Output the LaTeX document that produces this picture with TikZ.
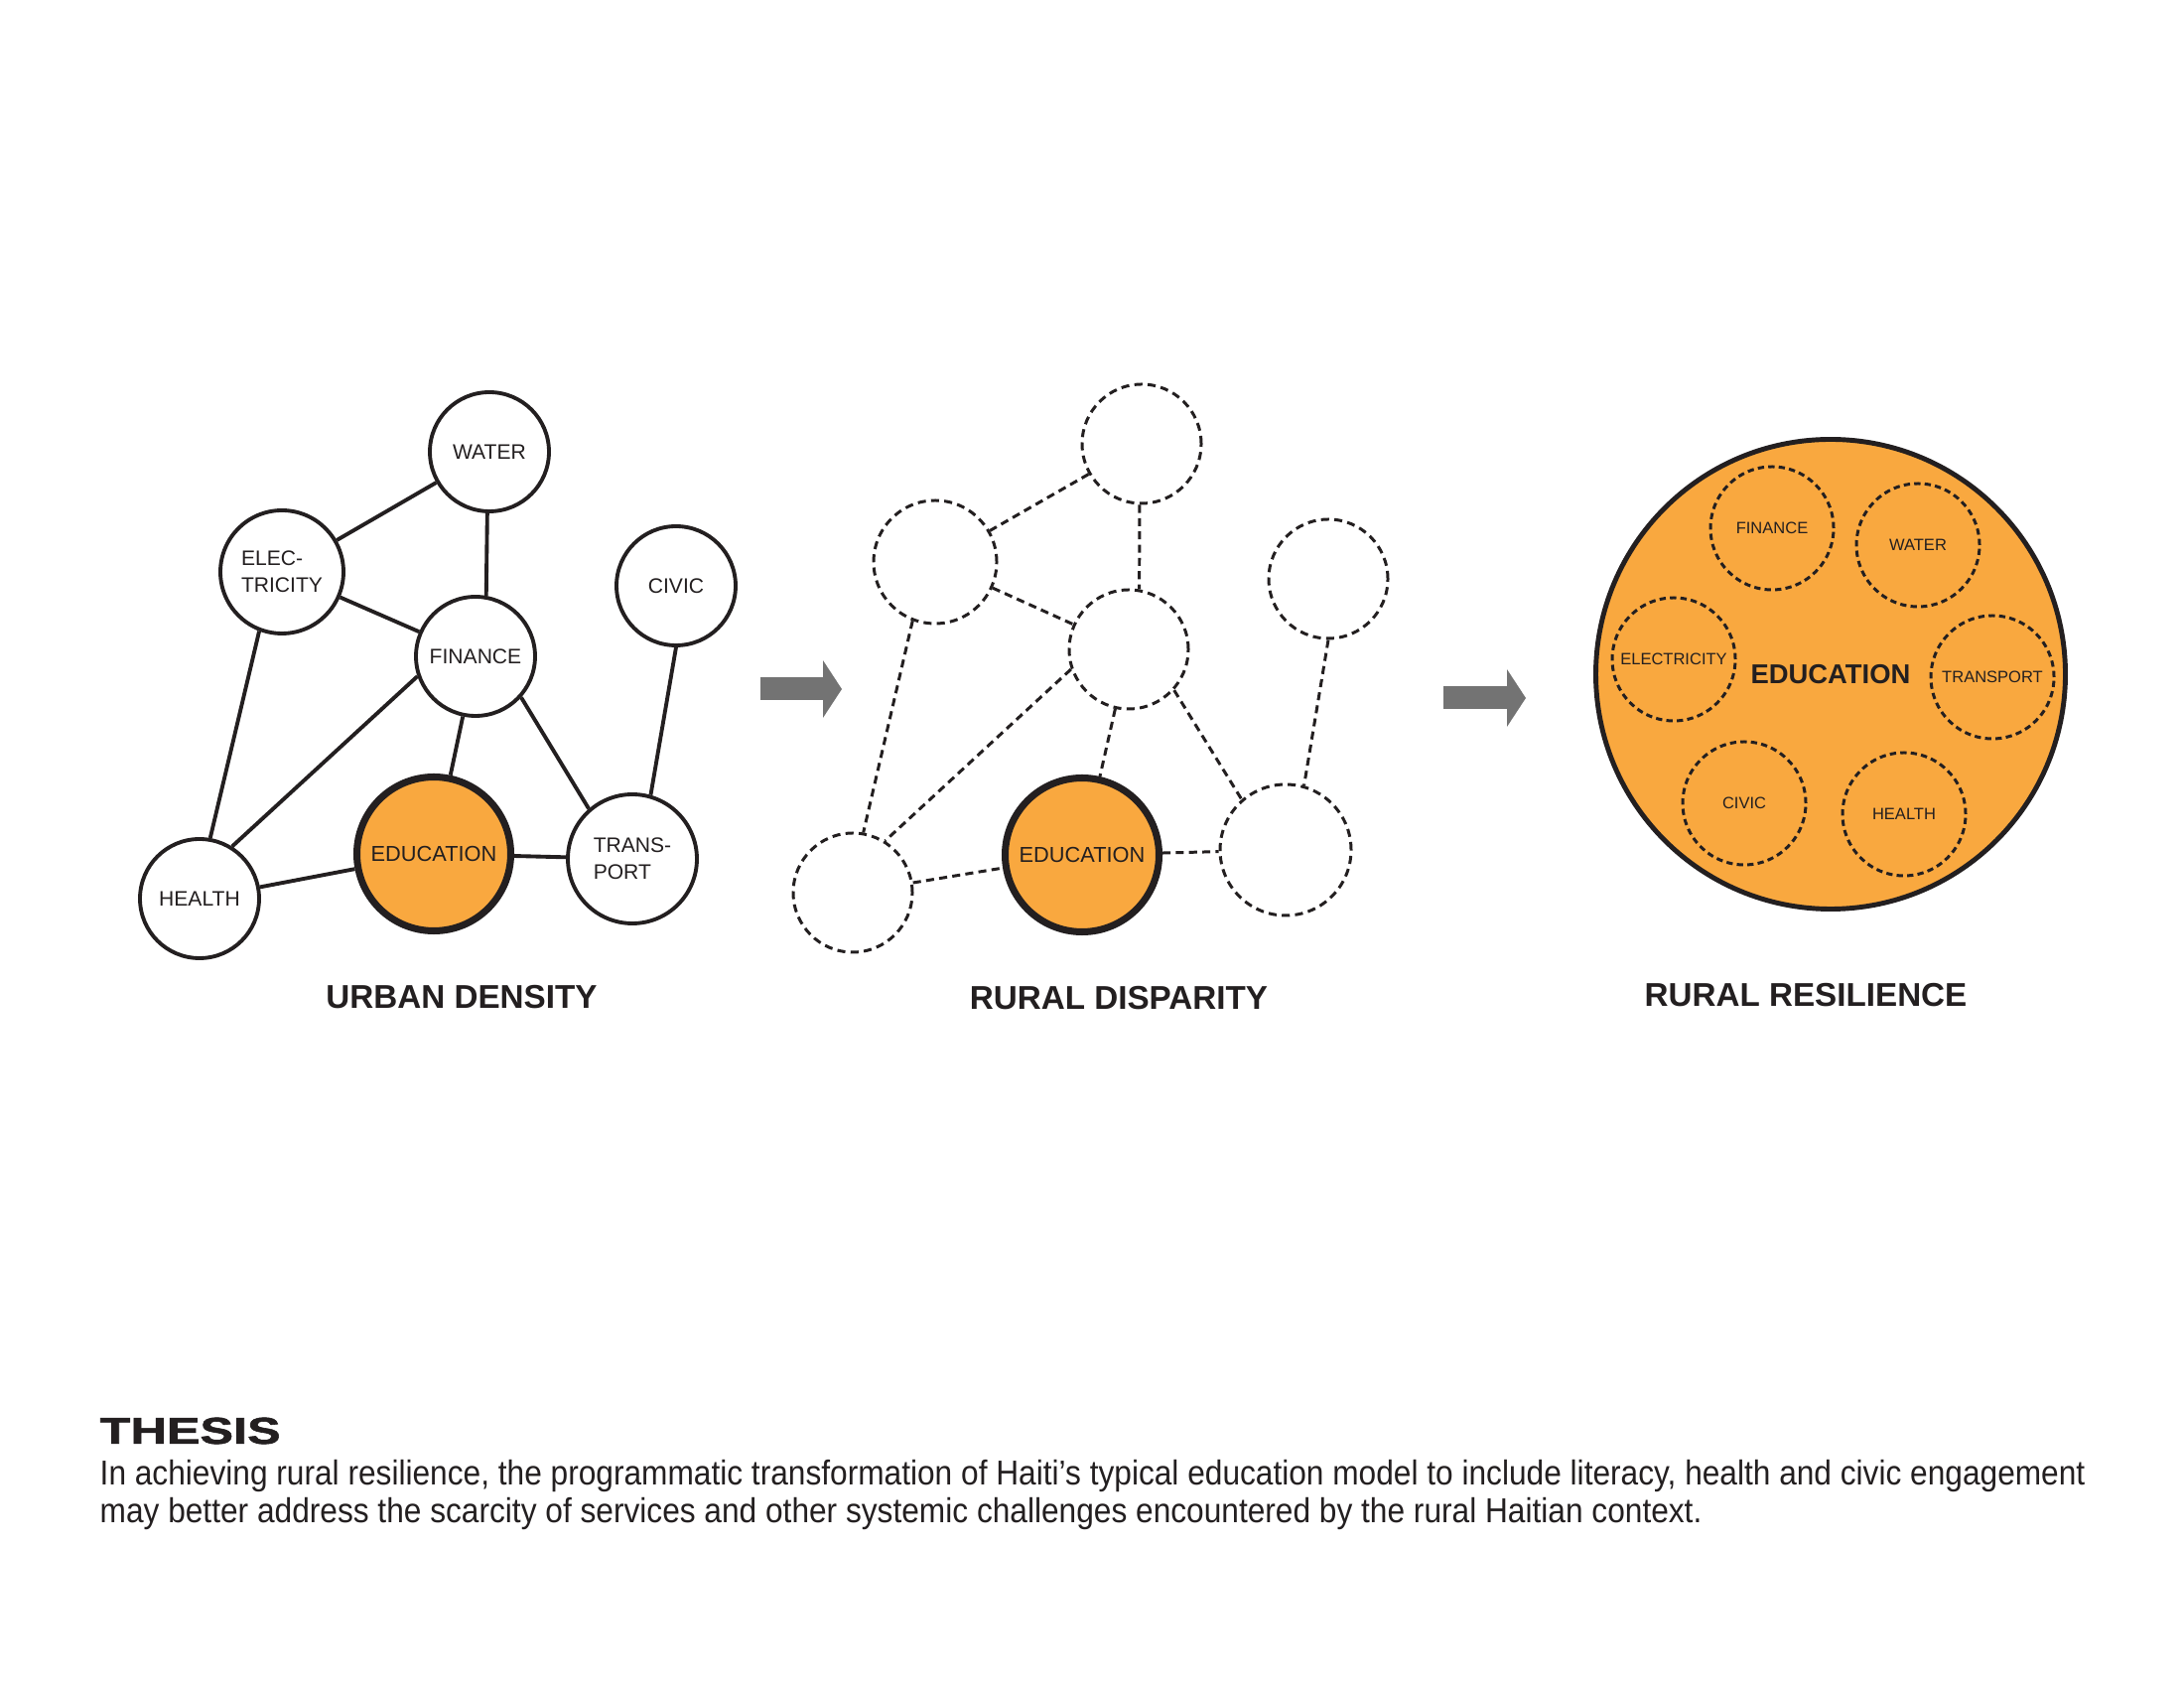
\documentclass[tikz,border=0pt]{standalone}
\usepackage{fontspec}
\setmainfont{Liberation Sans}
\newfontfamily\bodyfont[FakeStretch=0.91]{Liberation Sans}
\newfontfamily\headfont[FakeStretch=1.34,FakeBold=1.5]{Liberation Sans}
\usepackage{tikz}
\usetikzlibrary{arrows.meta}
\usepackage{xcolor}
\definecolor{hInk}{HTML}{231F20}
\definecolor{hOrange}{HTML}{F9A83F}
\definecolor{hGrey}{HTML}{737373}

\begin{document}
\begin{tikzpicture}[
  service/.style={circle, draw=hInk, line width=1.1pt, fill=white, minimum size=#1, inner sep=0pt,
                  align=left, font=\fontsize{6}{7.6}\selectfont, text=hInk},
  service/.default=1.2cm,
  ghost/.style={service=#1, line width=0.85pt, dash pattern=on 2.3pt off 1.5pt},
  ghost/.default=1.2cm,
  core/.style={circle, draw=hInk, line width=2pt, fill=hOrange, minimum size=1.55cm, inner sep=0pt,
               font=\fontsize{6.2}{7.5}\selectfont, text=hInk},
  pod/.style={circle, draw=hInk, line width=0.85pt, dash pattern=on 1.8pt off 1.2pt, minimum size=1.24cm,
              inner sep=0pt, font=\fontsize{4.7}{5.5}\selectfont, text=hInk},
  link/.style={draw=hInk, line width=1.1pt},
  dashlink/.style={draw=hInk, line width=0.85pt, dash pattern=on 2.3pt off 1.5pt},
  paneltitle/.style={font=\fontsize{9.45}{11}\selectfont\bfseries, text=hInk, inner sep=0pt},
  shiftarrow/.style={-{Triangle[length=0.19cm, width=0.57cm]}, line width=0.23cm, hGrey}]
  \useasboundingbox[fill=white] (0,0) rectangle (22,17);

  % urban density
  \node[service] (uwater) at (4.93,12.45) {WATER};
  \node[service=1.24cm] (uelec) at (2.84,11.24) {ELEC-\\TRICITY};
  \node[service] (ucivic) at (6.81,11.10) {CIVIC};
  \node[service] (ufinance) at (4.79,10.39) {FINANCE};
  \node[core] (uedu) at (4.37,8.40) {EDUCATION};
  \node[service=1.3cm] (utrans) at (6.37,8.35) {TRANS-\\PORT};
  \node[service] (uhealth) at (2.01,7.95) {HEALTH};

  % rural disparity
  \node[ghost] (rwater) at (11.50,12.53) {};
  \node[ghost=1.24cm] (relec) at (9.42,11.34) {};
  \node[ghost] (rcivic) at (13.38,11.17) {};
  \node[ghost] (rfinance) at (11.37,10.46) {};
  \node[core] (redu) at (10.90,8.39) {EDUCATION};
  \node[ghost=1.32cm] (rtrans) at (12.95,8.44) {};
  \node[ghost] (rhealth) at (8.59,8.01) {};

  \foreach \p/\ls in {u/link, r/dashlink}
    \foreach \a/\b in {water/elec, water.268/finance.80, elec/finance, elec.249/health.80,
                       finance.199/health.58, finance/edu, finance.318/trans.131,
                       civic.south/trans.74, health/edu, edu/trans}
      \draw[\ls] (\p\a) -- (\p\b);

  % rural resilience
  \node[circle, draw=hInk, line width=1.4pt, fill=hOrange, minimum size=4.73cm, inner sep=0pt,
        font=\fontsize{7.8}{9}\selectfont\bfseries, text=hInk] (sedu) at (18.44,10.21) {EDUCATION};
  \foreach \n/\lab/\x/\y in {finance/FINANCE/17.85/11.68, water/WATER/19.32/11.51,
                             elec/ELECTRICITY/16.86/10.36, trans/TRANSPORT/20.07/10.18,
                             civic/CIVIC/17.57/8.91, health/HEALTH/19.18/8.80}
    \node[pod] (s\n) at (\x,\y) {\lab};

  % arrows between panels
  \coordinate (ushift) at (7.66,10.06);
  \coordinate (rshift) at (8.48,10.06);
  \coordinate (rout) at (14.54,9.97);
  \coordinate (sin) at (15.37,9.97);
  \draw[shiftarrow] (ushift) -- (rshift);
  \draw[shiftarrow] (rout) -- (sin);

  \node[paneltitle] (utitle) at (4.65,6.96) {URBAN DENSITY};
  \node[paneltitle] (rtitle) at (11.27,6.95) {RURAL DISPARITY};
  \node[paneltitle] (stitle) at (18.19,6.98) {RURAL RESILIENCE};

  % thesis text
  \node[anchor=west, inner sep=0pt, font=\headfont\fontsize{10.7}{12}\selectfont\bfseries, text=hInk]
    (thesis) at (1.0,2.59) {THESIS};
  \node[anchor=base west, inner sep=0pt, font=\bodyfont\fontsize{9.9}{10.8}\selectfont, text=hInk]
    (line1) at (1.0,2.05) {In achieving rural resilience, the programmatic transformation of Haiti’s typical education model to include literacy, health and civic engagement};
  \node[anchor=base west, inner sep=0pt, font=\bodyfont\fontsize{9.9}{10.8}\selectfont, text=hInk]
    (line2) at (1.0,1.67) {may better address the scarcity of services and other systemic challenges encountered by the rural Haitian context.};
\end{tikzpicture}
\end{document}
